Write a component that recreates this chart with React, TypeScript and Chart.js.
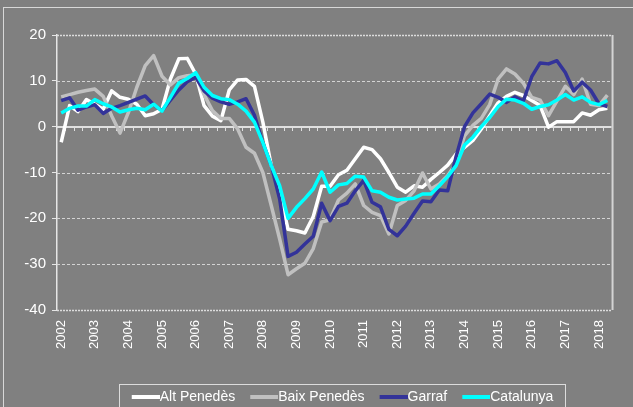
import React, { useEffect, useRef } from "react";
import { Chart, registerables } from "chart.js";

Chart.register(...registerables);

const years = [2002, 2003, 2004, 2005, 2006, 2007, 2008, 2009, 2010, 2011, 2012, 2013, 2014, 2015, 2016, 2017, 2018];
const quarters = ["T1", "T2", "T3", "T4"];
const categories = years.flatMap((y) => quarters.map((q) => `${y} ${q}`)).slice(0, 66);

const altPenedes = [
  -3.4, 4.6, 3.3, 5.9, 4.9, 3.8, 7.8, 6.4, 6.0, 4.9,
  2.4, 2.8, 3.8, 10.4, 14.8, 14.9, 11.5, 4.6, 2.3, 1.3,
  8.0, 10.2, 10.3, 8.8, 1.0, -8.5, -14.3, -22.4, -22.7, -23.2,
  -19.6, -13.0, -13.0, -10.5, -9.5, -7.0, -4.5, -5.0, -7.0, -10.0,
  -13.2, -14.3, -12.9, -13.2, -11.5, -10.0, -8.4, -6.0, -4.5, -3.0,
  -0.5, 2.4, 5.2, 6.6, 7.5, 6.8, 5.7, 4.6, -0.1, 1.1,
  1.1, 1.1, 3.0, 2.5, 3.7, 4.0,
];
const baixPenedes = [
  6.5, 7.0, 7.5, 7.9, 8.2, 6.6, 2.4, -1.4, 3.1, 8.6,
  13.3, 15.5, 11.0, 9.1, 10.7, 11.1, 11.3, 7.0, 3.5, 1.8,
  1.8, -0.5, -4.5, -5.8, -10.0, -17.2, -24.5, -32.3, -31.0, -29.8,
  -26.6, -20.8, -20.3, -16.0, -14.5, -12.5, -17.2, -18.7, -19.4, -23.4,
  -17.2, -16.1, -14.0, -10.1, -13.6, -12.5, -10.7, -8.0, -2.0, 0.3,
  1.8, 4.8, 10.4, 12.6, 11.5, 9.5, 6.4, 5.8, 2.4, 5.6,
  8.8, 7.0, 10.4, 4.9, 4.6, 6.9,
];
const garraf = [
  5.7, 6.3, 3.6, 4.3, 4.8, 2.9, 4.0, 4.6, 5.3, 6.0,
  6.7, 4.8, 3.5, 5.8, 8.0, 9.8, 10.8, 7.8, 6.2, 5.4,
  4.9, 5.4, 6.1, 2.5, -3.5, -8.5, -15.8, -28.3, -27.4, -25.6,
  -23.9, -16.7, -20.5, -17.4, -16.7, -14.0, -11.7, -16.5, -17.5, -22.4,
  -23.8, -21.7, -18.9, -16.2, -16.4, -13.8, -14.0, -6.5, 0.0, 3.0,
  5.0, 7.1, 6.4, 5.3, 6.5, 5.6, 10.9, 13.9, 13.7, 14.4,
  11.8, 7.8, 9.7, 8.0, 5.0, 4.4,
];
const catalunya = [
  3.0, 4.0, 4.5, 4.5, 5.9, 5.0, 4.3, 3.2, 3.7, 4.0,
  3.7, 4.9, 3.4, 6.4, 9.5, 10.5, 11.8, 8.6, 6.8, 6.1,
  5.9, 4.9, 3.4, 1.0, -3.5, -8.5, -12.9, -20.0, -17.6, -15.7,
  -13.6, -9.9, -14.3, -12.7, -12.4, -10.8, -11.0, -14.0, -14.3, -15.4,
  -16.0, -15.8, -15.6, -14.7, -14.7, -12.9, -10.9, -8.5, -4.0, -2.3,
  0.0, 2.0, 4.4, 6.0, 5.8, 5.1, 3.8, 4.4, 4.8, 5.8,
  7.0, 5.8, 6.5, 5.3, 4.8, 5.7,
];

const seriesNames = ["Alt Penedès", "Baix Penedès", "Garraf", "Catalunya"];
const seriesColors = ["#ffffff", "#c0c0c0", "#333399", "#00ffff"];
const yTicks = [20, 10, 0, -10, -20, -30, -40];

const FONT = "'Liberation Sans', Arial, sans-serif";
const BG = "#808080";

const bgPlugin = {
  id: "bgFrame",
  beforeDraw(chart: any) {
    const ctx = chart.ctx;
    ctx.save();
    ctx.fillStyle = BG;
    ctx.fillRect(0, 0, chart.width, chart.height);
    ctx.strokeStyle = "#d8d8d8";
    ctx.lineWidth = 1;
    ctx.strokeRect(3.5, 7.5, chart.width + 20, chart.height + 20);
    ctx.restore();
  },
};

const gridPlugin = {
  id: "excelGrid",
  beforeDatasetsDraw(chart: any) {
    const ctx = chart.ctx;
    const { left, right, top, bottom } = chart.chartArea;
    const y = chart.scales.y;
    const x = chart.scales.x;
    ctx.save();
    yTicks.forEach((v) => {
      const py = Math.round(y.getPixelForValue(v)) + 0.5;
      if (v === 0) return;
      if (v === 20 || v === -40) {
        ctx.strokeStyle = "#dcdcdc";
        ctx.lineWidth = 1.5;
        ctx.setLineDash([2, 1]);
      } else {
        ctx.strokeStyle = "#d4d4d4";
        ctx.lineWidth = 1;
        ctx.setLineDash([3, 2]);
      }
      ctx.beginPath();
      ctx.moveTo(left, py);
      ctx.lineTo(right, py);
      ctx.stroke();
    });
    ctx.setLineDash([]);
    ctx.strokeStyle = "#d4d4d4";
    ctx.lineWidth = 2;
    ctx.beginPath();
    ctx.moveTo(right + 1, top);
    ctx.lineTo(right + 1, bottom);
    ctx.stroke();
    const y0 = Math.round(y.getPixelForValue(0));
    ctx.strokeStyle = "#e0e0e0";
    ctx.lineWidth = 2;
    ctx.beginPath();
    ctx.moveTo(left, y0);
    ctx.lineTo(right, y0);
    ctx.stroke();
    ctx.lineWidth = 1;
    const n = categories.length;
    const step = x.getPixelForValue(1) - x.getPixelForValue(0);
    for (let i = 1; i < n; i++) {
      const px = Math.round(x.getPixelForValue(i) - step / 2) + 0.5;
      ctx.beginPath();
      ctx.moveTo(px, y0);
      ctx.lineTo(px, y0 + 4);
      ctx.stroke();
    }
    ctx.restore();
  },
};

const LEGEND_DX = 29;
const LEGEND_DY = 7;

const legendPlugin = {
  id: "legendShift",
  afterLayout(chart: any) {
    const l = chart.legend;
    if (!l) return;
    l.left += LEGEND_DX;
    l.right += LEGEND_DX;
    l.top += LEGEND_DY;
    l.bottom += LEGEND_DY;
  },
  afterDraw(chart: any) {
    const l = chart.legend;
    if (!l) return;
    const ctx = chart.ctx;
    const cx = (l.left + l.right) / 2;
    ctx.save();
    ctx.strokeStyle = "#dcdcdc";
    ctx.lineWidth = 1;
    ctx.strokeRect(Math.round(cx - 223) + 0.5, Math.round(l.top + 8) + 0.5, 446, 40);
    ctx.restore();
  },
};

function makeSample(color: string) {
  const c = document.createElement("canvas");
  c.width = 36;
  c.height = 4;
  const g = c.getContext("2d");
  if (g) {
    g.fillStyle = color;
    g.fillRect(8, 0, 28, 4);
  }
  return c;
}

export default function App() {
  const canvasRef = useRef<HTMLCanvasElement | null>(null);

  useEffect(() => {
    document.body.style.margin = "0";
    document.body.style.background = BG;
    const canvas = canvasRef.current;
    if (!canvas) return;
    const values = [altPenedes, baixPenedes, garraf, catalunya];
    const samples = seriesColors.map((c) => makeSample(c));
    const chart = new Chart(canvas, {
      type: "line",
      data: {
        labels: categories,
        datasets: values.map((d, i) => ({
          label: seriesNames[i],
          data: d,
          borderColor: seriesColors[i],
          backgroundColor: seriesColors[i],
          borderWidth: 3.5,
          pointRadius: 0,
          pointHoverRadius: 0,
          tension: 0,
          borderJoinStyle: "round" as const,
          order: 4 - i,
        })),
      },
      options: {
        animation: false,
        responsive: false,
        devicePixelRatio: 1,
        layout: { padding: { left: 0, right: 7, top: 35, bottom: 0 } },
        plugins: {
          legend: {
            position: "bottom",
            labels: {
              color: "#ffffff",
              font: { family: FONT, size: 14 },
              usePointStyle: true,
              pointStyleWidth: 22,
              padding: 14,
              sort: (a: any, b: any) => a.datasetIndex - b.datasetIndex,
              generateLabels: (ch: any) =>
                (Chart.defaults.plugins.legend.labels.generateLabels as any)(ch).map((it: any) => ({
                  ...it,
                  pointStyle: samples[it.datasetIndex],
                })),
            },
          },
          tooltip: { enabled: false },
          title: { display: false },
        },
        scales: {
          x: {
            type: "category",
            offset: true,
            grid: { display: false, drawTicks: false },
            border: { display: false },
            ticks: {
              autoSkip: false,
              minRotation: 90,
              maxRotation: 90,
              padding: 10,
              color: "#ffffff",
              font: { family: FONT, size: 13 },
              callback: (_v: any, idx: number) => (idx % 4 === 0 ? String(years[idx / 4]) : ""),
            },
            afterFit: (scale: any) => {
              scale.height = 59;
            },
          },
          y: {
            min: -40,
            max: 20,
            ticks: {
              stepSize: 10,
              color: "#ffffff",
              padding: 6,
              font: { family: FONT, size: 15 },
            },
            grid: {
              drawOnChartArea: false,
              drawTicks: true,
              tickLength: 5,
              tickColor: "#e6e6e6",
              color: "#e6e6e6",
            },
            border: { display: true, color: "#e6e6e6", width: 1.5 },
            afterFit: (scale: any) => {
              scale.width = 57;
            },
          },
        },
      },
      plugins: [bgPlugin, gridPlugin, legendPlugin],
    });
    return () => chart.destroy();
  }, []);

  return (
    <div style={{ width: 633, height: 407, background: BG }}>
      <canvas ref={canvasRef} width={633} height={407} style={{ width: 633, height: 407, display: "block" }} />
    </div>
  );
}
